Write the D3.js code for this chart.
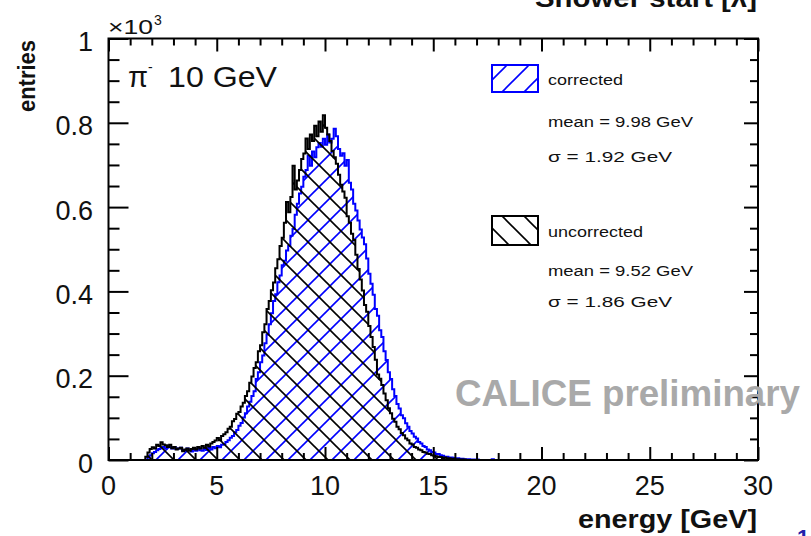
<!DOCTYPE html>
<html>
<head>
<meta charset="utf-8">
<script src="https://cdn.jsdelivr.net/npm/d3@7"></script>
<style>
  html, body { margin: 0; padding: 0; background: #fff; }
  svg { display: block; font-family: "Liberation Sans", Arial, Helvetica, sans-serif; }
</style>
</head>
<body>
<svg id="chart" width="811" height="536"></svg>
<script>
// Energy spectra of 10 GeV pi- showers, 0.1 GeV bins, counts per bin
const binWidth = 0.1;

const uncorrectedStart = 1.7;
const uncorrectedCounts = [
  8, 18, 26, 30, 27, 36, 33, 42, 37, 35, 31, 36, 28, 31, 25, 27, 29, 21, 25, 27,
  22, 26, 29, 25, 31, 27, 33, 29, 36, 32, 39, 43, 46, 52, 47, 57, 61, 66, 74, 79,
  92, 97, 110, 114, 127, 136, 152, 163, 183, 198, 218, 232, 258, 272, 303, 322, 358, 377, 403, 421,
  455, 476, 508, 527, 563, 612, 588, 624, 698, 642, 663, 688, 714, 727, 763, 738, 772, 757, 793, 768,
  803, 779, 818, 788, 772, 757, 733, 718, 703, 677, 653, 637, 622, 578, 563, 537, 522, 487, 453, 428,
  402, 368, 352, 318, 292, 268, 238, 203, 193, 178, 158, 142, 123, 111, 98, 91, 79, 73, 64, 59,
  51, 47, 39, 37, 31, 29, 25, 23, 19, 18, 15, 14, 11, 10, 9, 7, 7, 5, 6, 4,
  4, 3, 3, 2, 2, 1, 1, 1
];

const correctedStart = 1.8;
const correctedCounts = [
  6, 11, 16, 19, 23, 26, 29, 31, 27, 33, 30, 27, 31, 26, 27, 29, 24, 22, 27, 24,
  20, 26, 22, 27, 23, 22, 26, 24, 29, 25, 31, 28, 33, 30, 36, 38, 43, 47, 53, 57,
  66, 71, 81, 88, 101, 111, 127, 138, 152, 163, 192, 208, 232, 248, 277, 298, 322, 348, 377, 393,
  422, 438, 462, 473, 497, 508, 532, 548, 582, 608, 632, 648, 672, 688, 722, 698, 732, 718, 742, 752,
  743, 762, 748, 772, 753, 762, 786, 768, 738, 722, 728, 698, 712, 658, 642, 608, 592, 568, 547, 528,
  512, 478, 442, 418, 392, 358, 342, 308, 292, 258, 237, 208, 192, 168, 152, 133, 122, 106, 99, 87,
  79, 69, 63, 55, 51, 43, 39, 33, 31, 25, 23, 19, 18, 14, 14, 11, 10, 8, 8, 6,
  6, 5, 4, 4, 3, 3, 2, 2, 2, 1, 1, 1, 1, 0, 0, 0, 0, 0, 0, 2
];

const xTicks = [0, 5, 10, 15, 20, 25, 30];
const yTicks = [0, 200, 400, 600, 800, 1000];
const yTickLabels = ["0", "0.2", "0.4", "0.6", "0.8", "1"];

const legendEntries = [
  { name: "corrected", mean: "mean = 9.98 GeV", sigma: "σ = 1.92 GeV" },
  { name: "uncorrected", mean: "mean = 9.52 GeV", sigma: "σ = 1.86 GeV" }
];

const svg = d3.select("#chart");
const FONT = '"Liberation Sans", Arial, Helvetica, sans-serif';

const x = d3.scaleLinear().domain([0, 30]).range([108.5, 758]);
const y = d3.scaleLinear().domain([0, 1000]).range([460, 38.5]);

// hatch patterns: "/" for corrected, "\" for uncorrected
const defs = svg.append("defs");
function hatch(id, color, forward) {
  const p = defs.append("pattern")
    .attr("id", id).attr("patternUnits", "userSpaceOnUse")
    .attr("width", 22).attr("height", 22);
  const segs = forward
    ? [[-2, 2, 2, -2], [0, 22, 22, 0], [20, 24, 24, 20]]
    : [[-2, 20, 2, 24], [0, 0, 22, 22], [20, -2, 24, 2]];
  segs.forEach(s => p.append("line")
    .attr("x1", s[0]).attr("y1", s[1]).attr("x2", s[2]).attr("y2", s[3])
    .attr("stroke", color).attr("stroke-width", 1.6));
}
hatch("hatchBlue", "#0000ff", true);
hatch("hatchBlack", "#000000", false);

function binsOf(start, counts) {
  const s10 = Math.round(start / binWidth);
  const pts = counts.map((c, i) => ({ e: (s10 + i) * binWidth, v: c }));
  pts.push({ e: (s10 + counts.length) * binWidth, v: counts[counts.length - 1] });
  return pts;
}

const area = d3.area()
  .curve(d3.curveStepAfter)
  .x(d => x(d.e)).y0(y(0)).y1(d => y(d.v));

const plot = svg.append("g");
function drawHist(start, counts, fillId, color) {
  const pts = binsOf(start, counts);
  plot.append("path").datum(pts).attr("d", area)
    .attr("fill", `url(#${fillId})`).attr("stroke", color)
    .attr("stroke-width", 2).attr("stroke-linejoin", "miter");
}
drawHist(correctedStart, correctedCounts, "hatchBlue", "#0000ff");
drawHist(uncorrectedStart, uncorrectedCounts, "hatchBlack", "#000000");

// axes: ticks pointing into the frame on all four sides
const xMinor = d3.range(0, 31, 1).filter(v => v % 5 !== 0);
const yMinor = d3.range(0, 1001, 50).filter(v => v % 200 !== 0);

function axisG(axis, transform) {
  const g = svg.append("g").attr("transform", transform).call(axis);
  g.selectAll("text").remove();
  g.select(".domain").remove();
  g.selectAll("line").attr("stroke", "#000").attr("stroke-width", 2);
  return g;
}
axisG(d3.axisBottom(x).tickValues(xTicks).tickSize(-13), `translate(0,${y(0)})`);
axisG(d3.axisBottom(x).tickValues(xMinor).tickSize(-7), `translate(0,${y(0)})`);
axisG(d3.axisTop(x).tickValues(xTicks).tickSize(-13), `translate(0,${y(1000)})`);
axisG(d3.axisTop(x).tickValues(xMinor).tickSize(-7), `translate(0,${y(1000)})`);
axisG(d3.axisLeft(y).tickValues(yTicks).tickSize(-20), `translate(${x(0)},0)`);
axisG(d3.axisLeft(y).tickValues(yMinor).tickSize(-11), `translate(${x(0)},0)`);
axisG(d3.axisRight(y).tickValues(yTicks).tickSize(-14), `translate(${x(30)},0)`);
axisG(d3.axisRight(y).tickValues(yMinor).tickSize(-8), `translate(${x(30)},0)`);

// frame
svg.append("rect")
  .attr("x", x(0)).attr("y", y(1000))
  .attr("width", x(30) - x(0)).attr("height", y(0) - y(1000))
  .attr("fill", "none").attr("stroke", "#000").attr("stroke-width", 2);

// tick labels
svg.append("g").selectAll("text").data(xTicks).join("text")
  .attr("x", d => x(d)).attr("y", 495)
  .attr("text-anchor", "middle")
  .attr("font-family", FONT).attr("font-size", 27).attr("fill", "#111")
  .text(d => d);

svg.append("g").selectAll("text").data(yTicks).join("text")
  .attr("x", 93).attr("y", d => y(d) + 12.5)
  .attr("text-anchor", "end")
  .attr("font-family", FONT).attr("font-size", 27).attr("fill", "#111")
  .text((d, i) => yTickLabels[i]);

// axis exponent
svg.append("text").attr("x", 108).attr("y", 34)
  .attr("font-family", FONT).attr("font-size", 20).attr("fill", "#111")
  .attr("textLength", 45).attr("lengthAdjust", "spacingAndGlyphs")
  .text("×10");
svg.append("text").attr("x", 154).attr("y", 25)
  .attr("font-family", FONT).attr("font-size", 14).attr("fill", "#111")
  .text("3");

// axis titles
svg.append("text")
  .attr("transform", "translate(35,40) rotate(-90)")
  .attr("text-anchor", "end")
  .attr("font-family", FONT).attr("font-size", 23).attr("font-weight", "bold")
  .attr("fill", "#111")
  .attr("textLength", 72).attr("lengthAdjust", "spacingAndGlyphs")
  .text("entries");

svg.append("text").attr("x", 578).attr("y", 528)
  .attr("font-family", FONT).attr("font-size", 25).attr("font-weight", "bold")
  .attr("fill", "#111")
  .attr("textLength", 179).attr("lengthAdjust", "spacingAndGlyphs")
  .text("energy [GeV]");

svg.append("text").attr("x", 535).attr("y", 7)
  .attr("font-family", FONT).attr("font-size", 25).attr("font-weight", "bold")
  .attr("fill", "#111")
  .attr("textLength", 222).attr("lengthAdjust", "spacingAndGlyphs")
  .text("Shower start [λ]");

// beam label
svg.append("text").attr("x", 128).attr("y", 87)
  .attr("font-family", FONT).attr("font-size", 29).attr("fill", "#111")
  .text("π");
svg.append("text").attr("x", 148).attr("y", 72)
  .attr("font-family", FONT).attr("font-size", 14).attr("fill", "#111")
  .text("-");
svg.append("text").attr("x", 168).attr("y", 87)
  .attr("font-family", FONT).attr("font-size", 29).attr("fill", "#111")
  .attr("textLength", 109).attr("lengthAdjust", "spacingAndGlyphs")
  .text("10 GeV");

// legend
const legendRows = [
  { boxTop: 65, boxH: 27, color: "#0000ff", fill: "hatchBlue", lines: [85, 127, 162] },
  { boxTop: 216, boxH: 29, color: "#000000", fill: "hatchBlack", lines: [237, 276, 307] }
];
const legendWidths = [[75, 145, 124], [95, 145, 124]];
legendRows.forEach((r, i) => {
  svg.append("rect").attr("x", 492).attr("y", r.boxTop)
    .attr("width", 46).attr("height", r.boxH)
    .attr("fill", `url(#${r.fill})`).attr("stroke", r.color).attr("stroke-width", 2);
  const e = legendEntries[i];
  [e.name, e.mean, e.sigma].forEach((t, j) => {
    svg.append("text").attr("x", 548).attr("y", r.lines[j])
      .attr("font-family", FONT).attr("font-size", 15.5).attr("fill", "#111")
      .attr("textLength", legendWidths[i][j]).attr("lengthAdjust", "spacingAndGlyphs")
      .text(t);
  });
});

// preliminary stamp
svg.append("text").attr("x", 455).attr("y", 406)
  .attr("font-family", FONT).attr("font-size", 36).attr("font-weight", "bold")
  .attr("fill", "#a9a9a9")
  .attr("textLength", 345).attr("lengthAdjust", "spacingAndGlyphs")
  .text("CALICE preliminary");

// page number
svg.append("text").attr("x", 797).attr("y", 545)
  .attr("font-family", FONT).attr("font-size", 22).attr("font-weight", "bold")
  .attr("fill", "#2222aa")
  .text("1");
</script>
</body>
</html>
